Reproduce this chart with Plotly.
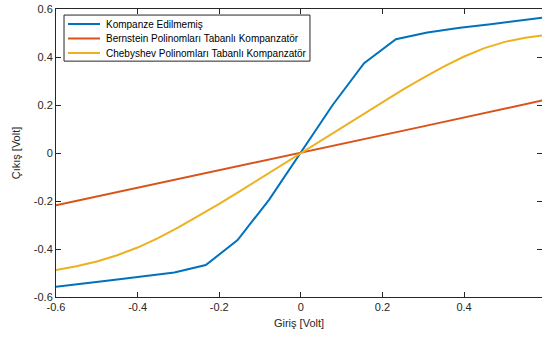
import plotly.graph_objects as go

# Data
x_kompanze = [-0.6, -0.545, -0.465, -0.39, -0.31, -0.233, -0.155, -0.078, 0.0,
              0.078, 0.155, 0.233, 0.31, 0.39, 0.465, 0.545, 0.6]
y_kompanze = [-0.557, -0.545, -0.53, -0.515, -0.498, -0.467, -0.363, -0.195, 0.0,
              0.20, 0.374, 0.474, 0.502, 0.522, 0.536, 0.553, 0.566]

x_bernstein = [-0.6, -0.3, 0.0, 0.3, 0.6]
y_bernstein = [-0.218, -0.109, 0.0, 0.111, 0.222]

x_chebyshev = [-0.6, -0.55, -0.5, -0.45, -0.4, -0.35, -0.3, -0.25, -0.2, -0.15, -0.1, -0.05, 0.0,
               0.05, 0.1, 0.15, 0.2, 0.25, 0.3, 0.35, 0.4, 0.45, 0.5, 0.55, 0.6]
y_chebyshev = [-0.488, -0.472, -0.452, -0.426, -0.394, -0.355, -0.31, -0.262, -0.212, -0.16, -0.107, -0.054, 0.0,
               0.054, 0.107, 0.16, 0.213, 0.264, 0.313, 0.36, 0.402, 0.437, 0.463, 0.48, 0.492]

series_names = ["Kompanze Edilmemiş",
                "Bernstein Polinomları Tabanlı Kompanzatör",
                "Chebyshev Polinomları Tabanlı Kompanzatör"]
colors = ["#0072BD", "#D95319", "#EDB120"]

x_ticks = [-0.6, -0.4, -0.2, 0, 0.2, 0.4, 0.6]
x_ticklabels = ["-0.6", "-0.4", "-0.2", "0", "0.2", "0.4", "0.6"]
y_ticks = [-0.6, -0.4, -0.2, 0, 0.2, 0.4, 0.6]
y_ticklabels = ["-0.6", "-0.4", "-0.2", "0", "0.2", "0.4", "0.6"]

fig = go.Figure()
for xs, ys, name, c in zip([x_kompanze, x_bernstein, x_chebyshev],
                           [y_kompanze, y_bernstein, y_chebyshev],
                           series_names, colors):
    fig.add_trace(go.Scatter(x=xs, y=ys, mode="lines", name=name,
                             line=dict(color=c, width=2), showlegend=False))

axis_color = "#262626"

# Compact MATLAB-style legend (box, line samples, labels) in paper coords
leg_x0, leg_x1, leg_y0, leg_y1 = 0.0165, 0.5226, 0.819, 0.979
sample_x0, sample_x1, text_x = 0.0247, 0.0905, 0.0985
row_y = [0.9479, 0.8976, 0.8472]

shapes = [dict(type="rect", xref="paper", yref="paper", x0=leg_x0, x1=leg_x1,
               y0=leg_y0, y1=leg_y1, line=dict(color=axis_color, width=1),
               fillcolor="white", layer="above")]
annotations = []
for name, c, ry in zip(series_names, colors, row_y):
    shapes.append(dict(type="line", xref="paper", yref="paper", x0=sample_x0, x1=sample_x1,
                       y0=ry, y1=ry, line=dict(color=c, width=2), layer="above"))
    annotations.append(dict(xref="paper", yref="paper", x=text_x, y=ry, text=name,
                            showarrow=False, xanchor="left", yanchor="middle",
                            font=dict(size=10, color="black")))

fig.update_layout(
    width=542, height=337,
    margin=dict(l=56, r=0, t=9, b=40),
    paper_bgcolor="white", plot_bgcolor="white",
    font=dict(family="Liberation Sans, Arial, sans-serif", size=11, color=axis_color),
    showlegend=False,
    shapes=shapes, annotations=annotations,
)
fig.update_xaxes(
    range=[-0.6, 0.591], tickvals=x_ticks, ticktext=x_ticklabels,
    ticks="inside", ticklen=5, tickcolor=axis_color, showline=True,
    linecolor=axis_color, linewidth=1, mirror="ticks", showgrid=False,
    zeroline=False, title=dict(text="Giriş [Volt]", standoff=7,
                               font=dict(size=11)),
)
fig.update_yaxes(
    range=[-0.6, 0.6], tickvals=y_ticks, ticktext=y_ticklabels,
    ticks="inside", ticklen=5, tickcolor=axis_color, showline=True,
    linecolor=axis_color, linewidth=1, mirror="ticks", showgrid=False,
    zeroline=False, title=dict(text="Çıkış [Volt]", standoff=10,
                               font=dict(size=11)),
)

fig.write_html("out.html")
